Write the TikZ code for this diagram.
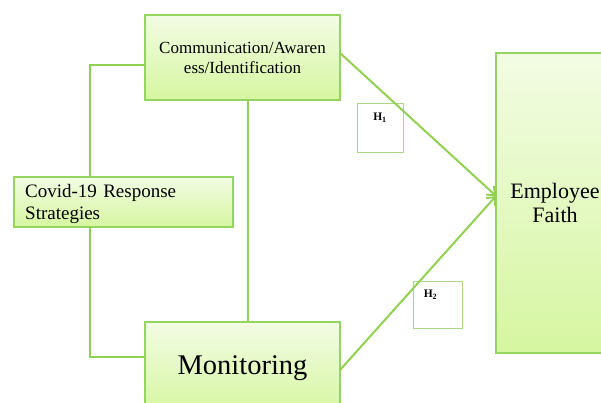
\documentclass[tikz,border=0pt]{standalone}
\usepackage{fontspec}
\setmainfont{Liberation Serif}
\usetikzlibrary{arrows.meta,shadows}
\definecolor{lgreen}{RGB}{146,208,80}
\definecolor{bordergreen}{RGB}{150,212,96}
\definecolor{topfill}{RGB}{242,252,228}
\definecolor{botfill}{RGB}{214,246,160}
\definecolor{hgreen}{RGB}{170,215,140}
\tikzset{
  gbox/.style={draw=bordergreen, line width=1.5pt, top color=topfill, bottom color=botfill,
    inner sep=0pt, outer sep=0pt, drop shadow={shadow xshift=1.2pt, shadow yshift=-1.2pt, opacity=0.25, fill=black!60}},
  hbox/.style={draw=hgreen, line width=1pt, fill=white, inner sep=0pt, outer sep=0pt},
  conn/.style={draw=lgreen, line width=2pt},
  arr/.style={conn, -{Straight Barb[length=7pt,width=12pt,line width=1.8pt]}},
}
\begin{document}
\begin{tikzpicture}[x=1pt,y=-1pt]
\clip (0,0) rectangle (601,403);
\fill[white] (0,0) rectangle (601,403);
\coordinate (ax) at (90,0);
% boxes
\node[gbox, minimum width=195pt, minimum height=85pt, align=center,
  font=\fontsize{17}{20}\selectfont] (comm) at (242.5,57.5) {Communication/Awaren\\ess/Identification};
\node[gbox, minimum width=219pt, minimum height=50pt] (covid) at (123.5,202) {};
\node[anchor=west, inner sep=0pt, text width=197pt, align=left,
  font=\fontsize{19}{22}\selectfont] (covidtxt) at (25,204) {\makebox[154pt][s]{Covid-19 Response}\\Strategies};
\node[gbox, minimum width=195pt, minimum height=92pt, font=\fontsize{28.5}{32}\selectfont] (mon) at (242.5,368) {Monitoring};
\node[gbox, minimum width=118pt, minimum height=300pt, align=center,
  font=\fontsize{22}{24}\selectfont] (emp) at (555,203) {Employee\\Faith};
% hypothesis boxes
\node[hbox, minimum width=46pt, minimum height=49pt,
  label={[anchor=north, inner sep=0pt, yshift=-9pt, font=\fontsize{11.5}{12}\selectfont\bfseries]north:H\textsubscript{1}}] (h1) at (380,128.5) {};
\node[hbox, minimum width=49pt, minimum height=47pt,
  label={[anchor=north, inner sep=0pt, yshift=-9pt, xshift=-7pt, font=\fontsize{11.5}{12}\selectfont\bfseries]north:H\textsubscript{2}}] (h2) at (437.5,304.5) {};
% connectors
\coordinate (tip) at ([yshift=7pt]emp.west);
\draw[conn] ([yshift=-7.5pt]comm.west) -| (covid.north -| ax);
\draw[conn] (covid.south -| ax) |- ([yshift=11pt]mon.west);
\draw[conn] ([xshift=5.5pt]comm.south) -- ([xshift=5.5pt]mon.north);
\draw[arr] ([yshift=4.5pt]comm.east) -- (tip);
\draw[arr] ([yshift=-2pt]mon.east) -- (tip);
\end{tikzpicture}
\end{document}
